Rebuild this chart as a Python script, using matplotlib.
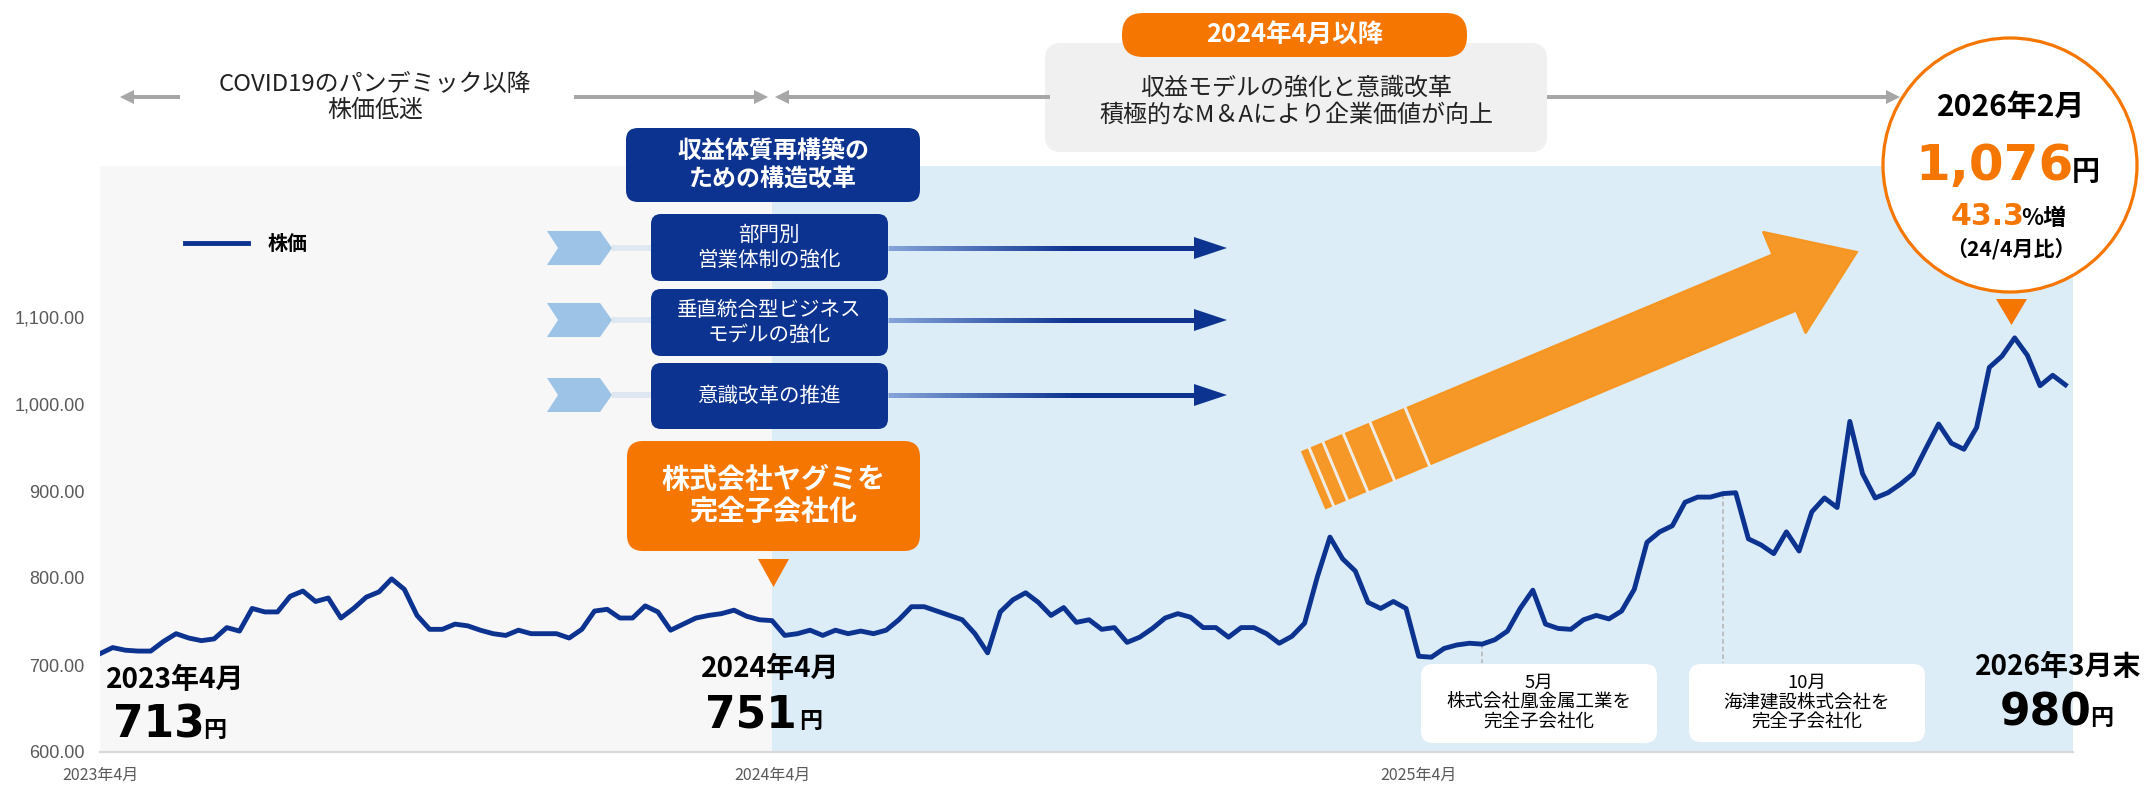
import matplotlib
matplotlib.use("Agg")
import matplotlib.pyplot as plt
import numpy as np
from matplotlib.patches import FancyBboxPatch, Polygon, Circle
from matplotlib.collections import LineCollection

plt.rcParams["font.family"] = ["Noto Sans CJK JP", "DejaVu Sans"]

# weekly closing price, 2023/4 - 2026/3
price = [
    713, 720, 717, 716, 716, 727, 736, 731, 728, 730,
    743, 739, 765, 761, 761, 779, 785, 773, 777, 754,
    765, 778, 784, 799, 787, 757, 741, 741, 747, 745,
    740, 736, 734, 740, 736, 736, 736, 731, 741, 762,
    764, 754, 754, 768, 761, 740, 747, 754, 757, 759,
    763, 756, 752, 751, 734, 736, 740, 734, 740, 736,
    739, 736, 740, 752, 767, 767, 762, 757, 752, 736,
    714, 761, 775, 783, 772, 757, 766, 749, 752, 741,
    743, 726, 732, 742, 754, 759, 755, 743, 743, 732,
    743, 743, 736, 725, 733, 748, 801, 847, 822, 808,
    772, 765, 773, 765, 710, 709, 719, 723, 725, 724,
    729, 739, 765, 786, 747, 742, 741, 752, 757, 753,
    762, 787, 841, 853, 860, 887, 893, 893, 897, 898,
    845, 838, 828, 853, 831, 876, 892, 881, 980, 920,
    892, 898, 908, 920, 949, 977, 955, 948, 973, 1042,
    1055, 1076, 1056, 1021, 1033, 1022,
]
week = np.arange(len(price))

x_tick_pos = [0, 53, 104]
x_tick_labels = ["2023年4月", "2024年4月", "2025年4月"]
y_ticks = [600, 700, 800, 900, 1000, 1100]
split_week = 53          # 2024年4月
acq_weeks = [109, 128]   # 5月 / 10月 acquisitions

BLUE = "#0d3390"
ORANGE = "#f57600"
ARROW_OR = "#f7941d"
GRAY_TXT = "#595959"

W, H = 2145, 785
PT = 1 / 1.389  # px -> pt at 100 dpi

fig = plt.figure(figsize=(W / 100, H / 100), dpi=100)
ax = fig.add_axes([100 / W, 1 - 752 / H, 1973 / W, 586 / H])
xmax = 155.6
ax.set_xlim(0, xmax)
ax.set_ylim(600, 600 + 586 / 0.87)

ax.axvspan(0, split_week, color="#f7f7f7", lw=0, zorder=0)
ax.axvspan(split_week, xmax, color="#dcedf8", lw=0, zorder=0)

for w in acq_weeks:
    ax.plot([w, w], [price[w], 702], ls=(0, (3, 2)), color="#b3b3b3", lw=1.1, zorder=1)

ax.plot(week, price, color=BLUE, lw=3.5, zorder=3)

for s in ["top", "right", "left"]:
    ax.spines[s].set_visible(False)
ax.spines["bottom"].set_color("#d9d9d9")
ax.spines["bottom"].set_linewidth(1.6)

ax.set_yticks(y_ticks)
ax.set_yticklabels([f"{v:,.2f}" for v in y_ticks], family="Liberation Sans")
ax.set_xticks(x_tick_pos)
ax.set_xticklabels(x_tick_labels)
ax.tick_params(axis="y", length=0, pad=11, labelsize=13, labelcolor=GRAY_TXT)
ax.tick_params(axis="x", length=0, pad=11, labelsize=11.5, labelcolor=GRAY_TXT)

# overlay in pixel coordinates for the annotations
ov = fig.add_axes([0, 0, 1, 1], zorder=5)
ov.set_xlim(0, W)
ov.set_ylim(H, 0)
ov.axis("off")
ov.patch.set_alpha(0)


def rbox(x0, y0, x1, y1, color, r=10):
    ov.add_patch(FancyBboxPatch((x0 + r, y0 + r), x1 - x0 - 2 * r, y1 - y0 - 2 * r,
                                boxstyle=f"round,pad={r}", fc=color, ec="none"))


def harrow(x0, x1, y, color="#a6a6a6"):
    d = np.sign(x1 - x0)
    ov.plot([x0, x1 - d * 12], [y, y], color=color, lw=4 * PT, solid_capstyle="butt")
    ov.add_patch(Polygon([(x1, y), (x1 - d * 14, y - 7), (x1 - d * 14, y + 7)], fc=color, ec="none"))


def txt(x, y, s, px, color="black", weight="normal", ha="center", va="center", fam=None, **kw):
    ov.text(x, y, s, fontsize=px * PT, color=color, fontweight=weight, ha=ha, va=va,
            family=fam if fam else ["Noto Sans CJK JP", "DejaVu Sans"], **kw)


# top period arrows
harrow(180, 120, 97)
harrow(574, 768, 97)
harrow(1050, 775, 97)
harrow(1547, 1900, 97)
txt(375, 97, "COVID19のパンデミック以降\n株価低迷", 24, color="#222222", linespacing=1.15)

rbox(1045, 43, 1547, 152, "#f0f0f0", r=16)
txt(1296, 102, "収益モデルの強化と意識改革\n積極的なM＆Aにより企業価値が向上", 24,
    color="#222222", linespacing=1.2)
rbox(1122, 13, 1467, 57, ORANGE, r=21)
txt(1295, 35, "2024年4月以降", 25.5, color="white", weight="bold")

# legend
ov.plot([185, 248], [243, 243], color=BLUE, lw=3.5)
txt(268, 243, "株価", 20, weight="bold", ha="left")

# structural reform boxes
rbox(626, 128, 920, 202, BLUE, r=12)
txt(773, 165, "収益体質再構築の\nための構造改革", 24, color="white", weight="bold", linespacing=1.15)

items = [(214, 281, 248, "部門別\n営業体制の強化"),
         (289, 356, 320, "垂直統合型ビジネス\nモデルの強化"),
         (363, 429, 395, "意識改革の推進")]
light, dark = np.array([0.52, 0.64, 0.85]), np.array([0.05, 0.20, 0.56])
for y0, y1, ya, label in items:
    ov.plot([612, 651], [ya, ya], color="#dfe7f1", lw=6 * PT, solid_capstyle="butt")
    ov.add_patch(Polygon([(547, ya - 17), (600, ya - 17), (612, ya), (600, ya + 17),
                          (547, ya + 17), (558, ya)], fc="#9dc3e6", ec="none"))
    rbox(651, y0, 888, y1, BLUE, r=10)
    txt(769, (y0 + y1) / 2, label, 20.5, color="white", linespacing=1.2)
    xs = np.linspace(888, 1196, 60)
    segs = [[(xs[i], ya), (xs[i + 1] + 2.5, ya)] for i in range(len(xs) - 1)]
    t = np.clip(np.linspace(0, 1, len(segs)) / 0.6, 0, 1)[:, None]
    ov.add_collection(LineCollection(segs, colors=light + (dark - light) * t,
                                     lw=5 * PT, capstyle="butt"))
    ov.add_patch(Polygon([(1194, ya - 11), (1227, ya), (1194, ya + 11)], fc=BLUE, ec="none"))

# Yagumi acquisition
rbox(627, 441, 920, 551, ORANGE, r=16)
txt(773, 496, "株式会社ヤグミを\n完全子会社化", 28, color="white", weight="bold", linespacing=1.2)
ov.add_patch(Polygon([(758, 559), (789, 559), (773.5, 587)], fc=ORANGE, ec="none"))

# big orange arrow
tail = np.array([1314.0, 480.0])
tip = np.array([1857.0, 252.0])
L = np.hypot(*(tip - tail))
u = (tip - tail) / L
n = np.array([-u[1], u[0]])
hw, hb, hh = 30.5, 510, 55
pts = [tail - hw * n, tail + hb * u - hw * n, tail + hb * u - hh * n, tip,
       tail + hb * u + hh * n, tail + hb * u + hw * n, tail + hw * n]
ov.add_patch(Polygon(pts, fc=ARROW_OR, ec=ARROW_OR, lw=1.5, alpha=0.95))
for s in [8, 23, 45, 74, 112]:
    a = tail + s * u - (hw + 2) * n
    b = tail + s * u + (hw + 2) * n
    ov.plot([a[0], b[0]], [a[1], b[1]], color="#f1ece3", lw=3 * PT, solid_capstyle="butt")

# start / end values
txt(106, 680, "2023年4月", 28, weight="bold", ha="left")
txt(205, 737, "713", 44, weight="bold", ha="right", va="baseline", fam=["DejaVu Sans"])
txt(203, 737, "円", 23, weight="bold", ha="left", va="baseline")
txt(770, 669, "2024年4月", 28, weight="bold")
txt(797, 728, "751", 44, weight="bold", ha="right", va="baseline", fam=["DejaVu Sans"])
txt(799, 728, "円", 23, weight="bold", ha="left", va="baseline")
txt(2058, 667, "2026年3月末", 28, weight="bold")
txt(2092, 725, "980", 44, weight="bold", ha="right", va="baseline", fam=["DejaVu Sans"])
txt(2090, 725, "円", 23, weight="bold", ha="left", va="baseline")

# acquisition callouts
rbox(1421, 664, 1657, 743, "white", r=12)
txt(1539, 703, "5月\n株式会社凰金属工業を\n完全子会社化", 18.5, linespacing=1.15)
rbox(1689, 664, 1925, 742, "white", r=12)
txt(1807, 703, "10月\n海津建設株式会社を\n完全子会社化", 18.5, linespacing=1.15)

# peak circle
ov.add_patch(Circle((2010, 165), 127, fc="white", ec=ORANGE, lw=3.2 * PT))
txt(2011, 107, "2026年2月", 30, weight="bold")
txt(2074, 180, "1,076", 50, color=ORANGE, weight="bold", ha="right", va="baseline", fam=["DejaVu Sans"])
txt(2072, 180, "円", 28, weight="bold", ha="left", va="baseline")
txt(2025, 225, "43.3", 30, color=ORANGE, weight="bold", ha="right", va="baseline", fam=["DejaVu Sans"])
txt(2021, 225, "%増", 23, weight="bold", ha="left", va="baseline")
txt(2011, 249, "（24/4月比）", 21, weight="bold")
ov.add_patch(Polygon([(1996, 299), (2027, 299), (2011.5, 325)], fc=ORANGE, ec="none"))

fig.savefig("out.png", dpi=100)
